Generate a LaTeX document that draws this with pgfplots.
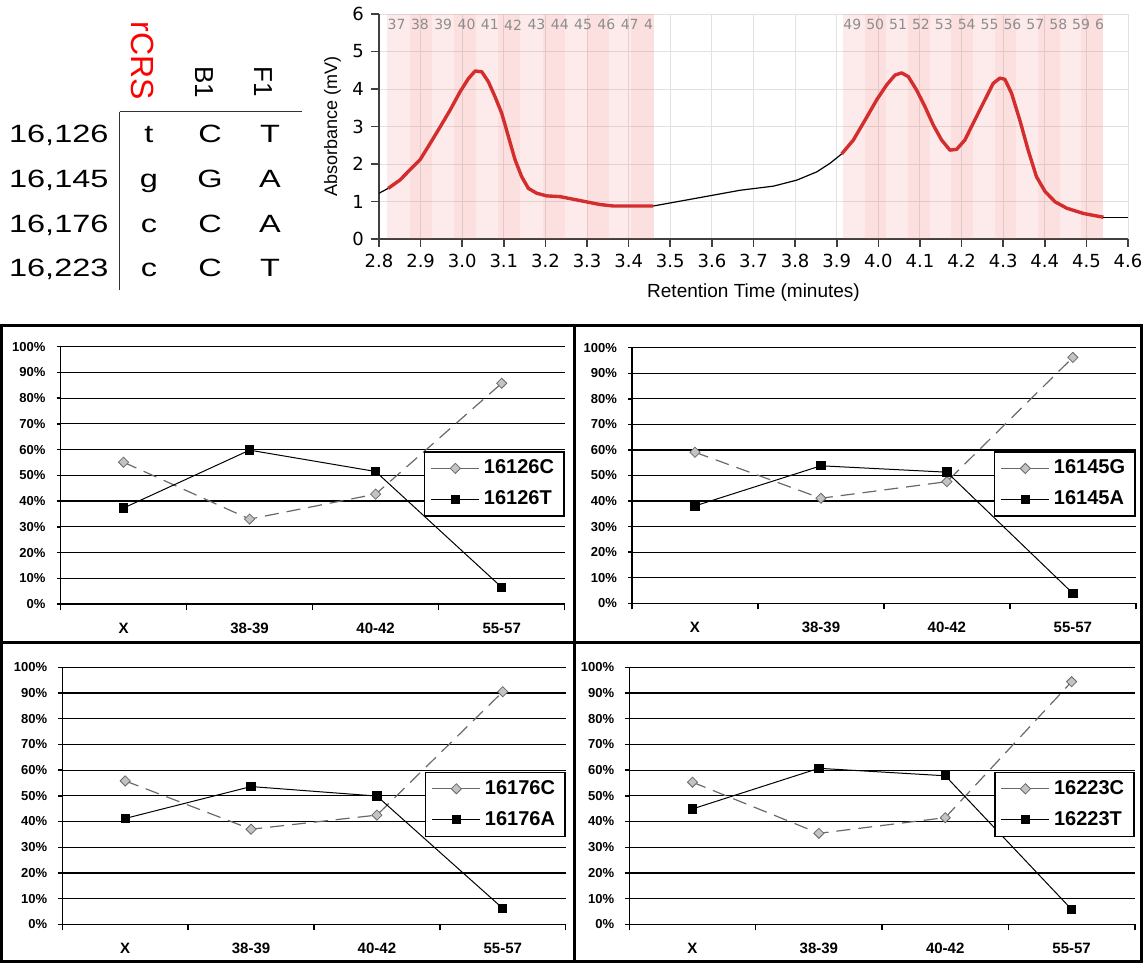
\documentclass[border=0pt]{standalone}
\usepackage{fontspec}
\setmainfont{Liberation Sans}
\newfontfamily\verd{DejaVu Sans}
\usepackage{pgfplots}
\pgfplotsset{compat=1.18}

\definecolor{trace}{RGB}{212,45,45}
\definecolor{baseline}{RGB}{135,135,135}
\definecolor{fracband}{RGB}{240,90,90}
\definecolor{gridgray}{RGB}{226,226,226}
\definecolor{fraclabel}{RGB}{140,140,140}
\definecolor{diafill}{RGB}{195,195,195}
\definecolor{diaedge}{RGB}{105,105,105}

\pgfplotsset{
  panel/.style={
    scale only axis, anchor=south west,
    xmin=-0.5, xmax=3.5, ymin=0, ymax=100,
    axis x line*=bottom, axis y line*=left,
    axis line style={black, line width=0.7pt, -},
    tick align=outside,
    xtick={0,1,2,3}, xticklabels={X,38-39,40-42,55-57},
    major x tick style={draw=none},
    minor xtick={-0.5,0.5,1.5,2.5,3.5},
    minor x tick style={black, line width=0.7pt},
    minor tick length=3pt,
    ytick={0,10,...,100},
    major tick length=2pt,
    major y tick style={black, line width=0.7pt},
    yticklabel={\pgfmathprintnumber{\tick}\%},
    ymajorgrids, major grid style={black, line width=0.6pt},
    /pgf/number format/assume math mode=true,
    xticklabel style={font=\bfseries\fontsize{7.5}{9}\selectfont, yshift=-4pt},
    yticklabel style={font=\bfseries\fontsize{6.5}{8}\selectfont, xshift=-2pt},
    legend style={at={(1,0.467)}, anchor=east, draw=black, line width=0.7pt, fill=white,
      font=\bfseries\fontsize{10}{12}\selectfont, inner xsep=3pt, inner ysep=2pt, row sep=3pt},
    legend cell align=left,
    legend image code/.code={\draw[mark repeat=2, mark phase=2] plot coordinates {(0pt,0pt) (12pt,0pt) (24pt,0pt)};},
    legend image post style={solid},
  },
  refbase/.style={diaedge, line width=0.6pt, dash pattern=on 7pt off 4pt,
    mark=square*, mark size=1.8pt, mark options={solid, rotate=45, fill=diafill, draw=diaedge, line width=0.4pt}},
  altbase/.style={black, line width=0.5pt, mark=square*, mark size=2.1pt, mark options={solid, fill=black}},
}

\begin{document}
\begin{tikzpicture}
\useasboundingbox (0pt,0pt) rectangle (571.5pt,-481.5pt);

% genotype table
\begin{scope}[every node/.style={inner sep=0pt}]
  \node[rotate=-90, text=red, font=\fontsize{16}{18}\selectfont] at (71.5pt,-30.5pt) {rCRS};
  \node[rotate=-90, font=\fontsize{13}{15}\selectfont] at (102pt,-41pt) {B1};
  \node[rotate=-90, font=\fontsize{13}{15}\selectfont] at (131.5pt,-41pt) {F1};
  \draw[black!80, line width=0.6pt] (59.8pt,-55.85pt) -- (59.8pt,-145pt);
  \draw[black!80, line width=0.6pt] (59.8pt,-55.85pt) -- (151pt,-55.85pt);
  \foreach \yy/\pos/\r/\b/\f in {71/16{,}126/t/C/T, 93.75/16{,}145/g/G/A, 116/16{,}176/c/C/A, 138.25/16{,}223/c/C/T}{
    \node[anchor=base east, xscale=1.3, font=\fontsize{12.5}{14}\selectfont] at (54.5pt,-\yy pt) {\pos};
    \node[anchor=base, xscale=1.3, font=\fontsize{12.5}{14}\selectfont] at (74.5pt,-\yy pt) {\r};
    \node[anchor=base, xscale=1.3, font=\fontsize{12.5}{14}\selectfont] at (105pt,-\yy pt) {\b};
    \node[anchor=base, xscale=1.3, font=\fontsize{12.5}{14}\selectfont] at (135pt,-\yy pt) {\f};
  }
\end{scope}

% chromatogram
\begin{axis}[
  at={(189.5pt,-119.5pt)}, anchor=south west, scale only axis,
  width=374.5pt, height=112.5pt,
  xmin=2.8, xmax=4.6, ymin=0, ymax=6,
  xtick={2.8,2.9,3.0,3.1,3.2,3.3,3.4,3.5,3.6,3.7,3.8,3.9,4.0,4.1,4.2,4.3,4.4,4.5,4.6},
  ytick={0,1,2,3,4,5,6},
  axis x line*=bottom, axis y line*=left,
  axis line style={black!75, line width=0.6pt, -},
  tick align=outside, major tick length=4pt,
  tick style={black!75, line width=0.8pt},
  grid=major, major grid style={gridgray, line width=0.5pt},
  /pgf/number format/assume math mode=true,
  xticklabel style={font=\verd\fontsize{9}{10}\selectfont, /pgf/number format/fixed, /pgf/number format/fixed zerofill, /pgf/number format/precision=1},
  yticklabel style={font=\verd\fontsize{9}{10}\selectfont},
  xlabel={Retention Time (minutes)}, ylabel={Absorbance (mV)},
  every axis x label/.style={at={(axis description cs:0.5,-0.24)}, anchor=center, font=\fontsize{9.5}{11}\selectfont},
  every axis y label/.style={at={(axis description cs:-0.062,0.5)}, anchor=center, rotate=90, font=\fontsize{9}{11}\selectfont},
]
% collected fractions
\fill[fracband, fill opacity=0.12] (axis cs:2.82,0) rectangle (axis cs:3.46,6);
\pgfplotsinvokeforeach{1,3,5,7,9,11}{\fill[fracband, fill opacity=0.08] (axis cs:{2.82+#1*0.05333},0) rectangle (axis cs:{2.82+(#1+1)*0.05333},6);}
\fill[fracband, fill opacity=0.12] (axis cs:3.915,0) rectangle (axis cs:4.54,6);
\pgfplotsinvokeforeach{1,3,5,7,9,11}{\fill[fracband, fill opacity=0.08] (axis cs:{3.915+#1*0.05208},0) rectangle (axis cs:{3.915+(#1+1)*0.05208},6);}
\pgfplotsinvokeforeach{37,...,47}{\node[anchor=west, inner sep=0pt, text=fraclabel, font=\verd\fontsize{7}{8}\selectfont] at (axis cs:{2.82+(#1-37)*0.056},5.71) {#1};}
\node[anchor=west, inner sep=0pt, text=fraclabel, font=\verd\fontsize{7}{8}\selectfont] at (axis cs:3.436,5.71) {4};
\pgfplotsinvokeforeach{49,...,59}{\node[anchor=west, inner sep=0pt, text=fraclabel, font=\verd\fontsize{7}{8}\selectfont] at (axis cs:{3.915+(#1-49)*0.055},5.71) {#1};}
\node[anchor=west, inner sep=0pt, text=fraclabel, font=\verd\fontsize{7}{8}\selectfont] at (axis cs:4.52,5.71) {6};

\addplot[baseline, line width=0.6pt] coordinates {(2.80,1.22) (2.822,1.35)};
\addplot[trace, line width=1.7pt, line join=round] coordinates {
 (2.822,1.35) (2.850,1.57) (2.882,1.93) (2.899,2.12) (2.923,2.55) (2.947,2.99)
 (2.971,3.44) (2.995,3.93) (3.015,4.28) (3.031,4.48) (3.047,4.46) (3.063,4.19)
 (3.079,3.79) (3.095,3.35) (3.111,2.73) (3.127,2.11) (3.143,1.66) (3.159,1.35)
 (3.179,1.22) (3.203,1.15) (3.235,1.13) (3.267,1.06) (3.299,0.99) (3.331,0.92)
 (3.363,0.88) (3.459,0.88)};
\addplot[baseline, line width=0.6pt] coordinates {
 (3.459,0.88) (3.539,1.04) (3.668,1.30) (3.748,1.41) (3.804,1.57) (3.852,1.79)
 (3.884,2.02) (3.912,2.27)};
\addplot[trace, line width=1.7pt, line join=round] coordinates {
 (3.912,2.27) (3.940,2.64) (3.968,3.17) (3.996,3.71) (4.020,4.11) (4.040,4.37)
 (4.056,4.43) (4.072,4.33) (4.092,3.97) (4.112,3.53) (4.132,3.04) (4.152,2.64)
 (4.172,2.37) (4.188,2.39) (4.208,2.64) (4.228,3.09) (4.252,3.62) (4.276,4.15)
 (4.292,4.29) (4.304,4.26) (4.320,3.89) (4.340,3.17) (4.360,2.37) (4.380,1.66)
 (4.401,1.26) (4.425,0.99) (4.453,0.82) (4.493,0.68) (4.541,0.58)};
\addplot[baseline, line width=0.6pt] coordinates {(4.541,0.58) (4.6,0.58)};
\end{axis}

% allele fractions, 16126
\begin{axis}[panel, at={(30.25pt,-302pt)}, width=252.1pt, height=128.65pt]
\addplot[refbase] coordinates {(0,55.1) (1,33.0) (2,42.7) (3,85.8)};
\addlegendentry{16126C}
\addplot[altbase] coordinates {(0,37.3) (1,59.8) (2,51.5) (3,6.5)};
\addlegendentry{16126T}
\end{axis}

% 16145
\begin{axis}[panel, at={(316pt,-301.65pt)}, width=251.9pt, height=127.8pt]
\addplot[refbase] coordinates {(0,59.1) (1,41.1) (2,47.6) (3,96.2)};
\addlegendentry{16145G}
\addplot[altbase] coordinates {(0,38.1) (1,53.8) (2,51.3) (3,3.9)};
\addlegendentry{16145A}
\end{axis}

% 16176
\begin{axis}[panel, at={(31.15pt,-462.15pt)}, width=251.7pt, height=128.5pt]
\addplot[refbase] coordinates {(0,55.8) (1,37.0) (2,42.5) (3,90.5)};
\addlegendentry{16176C}
\addplot[altbase] coordinates {(0,41.2) (1,53.6) (2,49.9) (3,6.2)};
\addlegendentry{16176A}
\end{axis}

% 16223
\begin{axis}[panel, at={(314.65pt,-462.15pt)}, width=252.75pt, height=128.5pt]
\addplot[refbase] coordinates {(0,55.3) (1,35.4) (2,41.5) (3,94.4)};
\addlegendentry{16223C}
\addplot[altbase] coordinates {(0,44.9) (1,60.7) (2,57.8) (3,5.8)};
\addlegendentry{16223T}
\end{axis}

% panel frames
\draw[black, line width=1.5pt] (0.75pt,-162.75pt) rectangle (570.75pt,-480.75pt);
\draw[black, line width=1.5pt] (287pt,-162.75pt) -- (287pt,-480.75pt);
\draw[black, line width=1.5pt] (0.75pt,-321.25pt) -- (570.75pt,-321.25pt);
\end{tikzpicture}
\end{document}
